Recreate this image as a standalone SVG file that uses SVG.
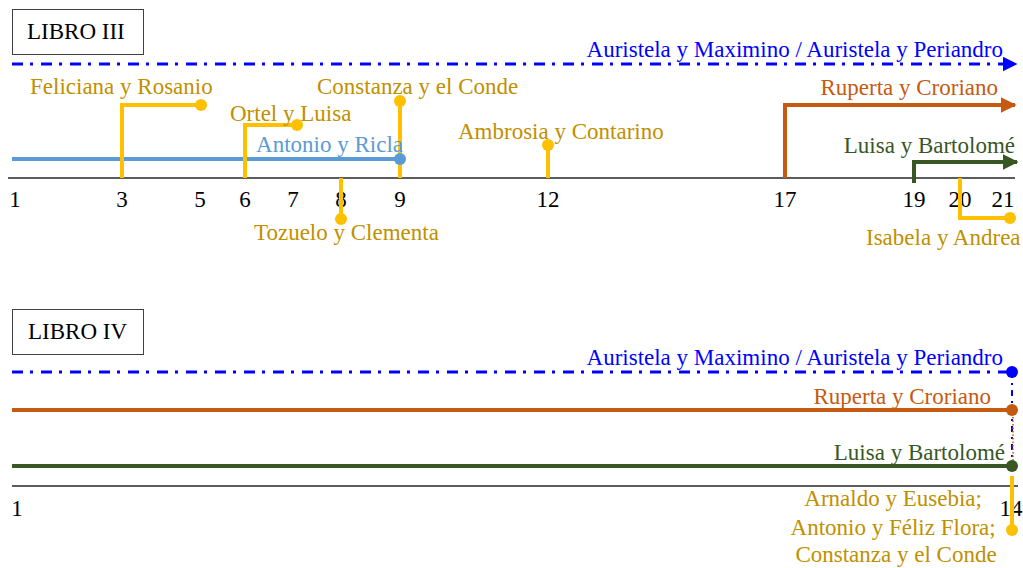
<svg xmlns="http://www.w3.org/2000/svg" width="1023" height="568" viewBox="0 0 1023 568">
  <style>
    text { font-family: "Liberation Serif", "Times New Roman", serif; font-size: 23px; }
    .axis { stroke: #262626; stroke-width: 1.6; fill: none; }
    .tick { fill: #000; }
    .box { fill: #fff; stroke: #404040; stroke-width: 1; }
    .blue { stroke: #0000FF; stroke-width: 3; fill: none; stroke-dasharray: 11 7 3 8; }
    .bluet { fill: #0000FF; }
    .sky { stroke: #5B9BD5; stroke-width: 4; fill: none; }
    .skyt { fill: #5B9BD5; }
    .gold { stroke: #FFC000; stroke-width: 4; fill: none; }
    .goldt { fill: #BF9000; }
    .rust { stroke: #C55A11; stroke-width: 4; fill: none; }
    .rustt { fill: #C55A11; }
    .moss { stroke: #385723; stroke-width: 4; fill: none; }
    .mosst { fill: #385723; }
  </style>
  <defs>
    <marker id="arrBlue" viewBox="0 0 10 10" refX="9" refY="5" markerWidth="5" markerHeight="5" markerUnits="strokeWidth" orient="auto">
      <path d="M0,0 L10,5 L0,10 z" fill="#0000FF"/>
    </marker>
    <marker id="arrRust" viewBox="0 0 10 10" refX="9" refY="5" markerWidth="4" markerHeight="4" markerUnits="strokeWidth" orient="auto">
      <path d="M0,0 L10,5 L0,10 z" fill="#C55A11"/>
    </marker>
    <marker id="arrMoss" viewBox="0 0 10 10" refX="9" refY="5" markerWidth="4" markerHeight="4" markerUnits="strokeWidth" orient="auto">
      <path d="M0,0 L10,5 L0,10 z" fill="#385723"/>
    </marker>
  </defs>

  <!-- ===== Libro III ===== -->
  <g id="libro3-title">
    <rect class="box" x="12.5" y="9.5" width="131" height="45"/>
    <text x="27" y="39">LIBRO III</text>
  </g>

  <g id="libro3-axis">
    <line class="axis" x1="8" y1="178" x2="1015" y2="178"/>
    <text class="tick" x="15" y="207" text-anchor="middle">1</text>
    <text class="tick" x="122" y="207" text-anchor="middle">3</text>
    <text class="tick" x="200" y="207" text-anchor="middle">5</text>
    <text class="tick" x="245" y="207" text-anchor="middle">6</text>
    <text class="tick" x="293" y="207" text-anchor="middle">7</text>
    <text class="tick" x="341" y="207" text-anchor="middle">8</text>
    <text class="tick" x="400" y="207" text-anchor="middle">9</text>
    <text class="tick" x="548" y="207" text-anchor="middle">12</text>
    <text class="tick" x="785" y="207" text-anchor="middle">17</text>
    <text class="tick" x="914" y="207" text-anchor="middle">19</text>
    <text class="tick" x="960" y="207" text-anchor="middle">20</text>
    <text class="tick" x="1003" y="207" text-anchor="middle">21</text>
  </g>

  <g id="connectors-libro3">
    <line class="blue" x1="12" y1="64" x2="1016" y2="64" marker-end="url(#arrBlue)"/>
    <line class="sky" x1="12" y1="159" x2="400" y2="159"/>
    <line x1="400" y1="159" x2="400" y2="178" stroke="#5B9BD5" stroke-width="2.5" stroke-dasharray="2 2"/>
    <polyline class="gold" points="122,178 122,105 200,105"/>
    <polyline class="gold" points="245,178 245,125 297,125"/>
    <line class="gold" x1="400" y1="178" x2="400" y2="101"/>
    <line class="gold" x1="548" y1="178" x2="548" y2="144"/>
    <line class="gold" x1="341" y1="178" x2="341" y2="219"/>
    <polyline class="gold" points="960,178 960,218 1010,218"/>
    <polyline class="rust" points="785,178 785,105 1015,105" marker-end="url(#arrRust)"/>
    <polyline class="moss" points="914,183 914,162 1017,162" marker-end="url(#arrMoss)"/>
  </g>

  <g id="n-auristela3">
    <text class="bluet" x="1003" y="57" text-anchor="end">Auristela y Maximino / Auristela y Periandro</text>
  </g>
  <g id="n-antonio-ricla">
    <circle cx="400" cy="159" r="6" fill="#5B9BD5"/>
    <text class="skyt" x="403" y="152" text-anchor="end">Antonio y Ricla</text>
  </g>
  <g id="n-feliciana">
    <circle cx="201" cy="105" r="6" fill="#FFC000"/>
    <text class="goldt" x="30" y="94">Feliciana y Rosanio</text>
  </g>
  <g id="n-ortel">
    <circle cx="297" cy="125" r="6" fill="#FFC000"/>
    <text class="goldt" x="230" y="121">Ortel y Luisa</text>
  </g>
  <g id="n-constanza3">
    <circle cx="400" cy="101" r="6" fill="#FFC000"/>
    <text class="goldt" x="317" y="94">Constanza y el Conde</text>
  </g>
  <g id="n-ambrosia">
    <circle cx="548" cy="145" r="6" fill="#FFC000"/>
    <text class="goldt" x="458" y="139">Ambrosia y Contarino</text>
  </g>
  <g id="n-tozuelo">
    <circle cx="341" cy="219" r="6" fill="#FFC000"/>
    <text class="goldt" x="254" y="240">Tozuelo y Clementa</text>
  </g>
  <g id="n-isabela">
    <circle cx="1010" cy="218" r="6" fill="#FFC000"/>
    <text class="goldt" x="866" y="245">Isabela y Andrea</text>
  </g>
  <g id="n-ruperta3">
    <text class="rustt" x="998" y="95" text-anchor="end">Ruperta y Croriano</text>
  </g>
  <g id="n-luisa3">
    <text class="mosst" x="1015" y="153" text-anchor="end">Luisa y Bartolomé</text>
  </g>

  <!-- ===== Libro IV ===== -->
  <g id="libro4-title">
    <rect class="box" x="12.5" y="309.5" width="131" height="45"/>
    <text x="28" y="339">LIBRO IV</text>
  </g>

  <g id="libro4-axis">
    <line class="axis" x1="12" y1="486" x2="1018" y2="486"/>
    <text class="tick" x="17" y="516" text-anchor="middle">1</text>
    <text class="tick" x="1011" y="516" text-anchor="middle">14</text>
  </g>

  <g id="connectors-libro4">
    <line class="blue" x1="12" y1="372" x2="1012" y2="372"/>
    <line x1="1012" y1="372" x2="1012" y2="466" stroke="#0000FF" stroke-width="2" stroke-dasharray="6 5 2 5"/>
    <line x1="1013" y1="410" x2="1013" y2="466" stroke="#C55A11" stroke-width="1.5" stroke-dasharray="1.5 2"/>
    <line class="rust" x1="12" y1="410" x2="1012" y2="410"/>
    <line class="moss" x1="12" y1="466" x2="1012" y2="466"/>
    <line class="gold" x1="1012" y1="476" x2="1012" y2="530"/>
  </g>

  <g id="n-auristela4">
    <circle cx="1012" cy="372" r="6" fill="#0000FF"/>
    <text class="bluet" x="1003" y="365" text-anchor="end">Auristela y Maximino / Auristela y Periandro</text>
  </g>
  <g id="n-ruperta4">
    <circle cx="1012" cy="410" r="6" fill="#C55A11"/>
    <text class="rustt" x="991" y="404" text-anchor="end">Ruperta y Croriano</text>
  </g>
  <g id="n-luisa4">
    <circle cx="1012" cy="466" r="6" fill="#385723"/>
    <text class="mosst" x="1005" y="460" text-anchor="end">Luisa y Bartolomé</text>
  </g>
  <g id="n-grupo-final">
    <circle cx="1012" cy="530" r="6" fill="#FFC000"/>
    <text class="goldt" text-anchor="middle">
      <tspan x="896" y="506">Arnaldo y Eusebia;</tspan>
      <tspan x="896" y="535">Antonio y Féliz Flora;</tspan>
      <tspan x="896" y="562">Constanza y el Conde</tspan>
    </text>
  </g>
</svg>
